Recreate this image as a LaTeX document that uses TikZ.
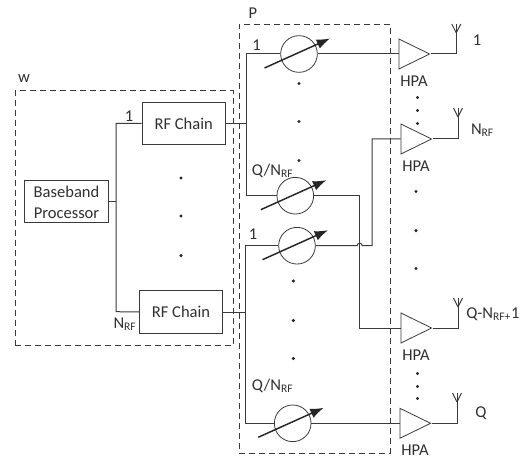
\documentclass[tikz,border=0pt]{standalone}
\usepackage{fontspec}
\setmainfont{Carlito}
\usetikzlibrary{shapes.geometric,arrows.meta,calc}
\definecolor{ln}{HTML}{3A3A3A}
\definecolor{tx}{HTML}{303030}
\newcommand{\nrf}{N\textsubscript{RF}}
\tikzset{
  every node/.style={text=tx,font=\fontsize{12.4pt}{15.7pt}\selectfont},
  wire/.style={draw=ln,line width=0.75pt},
  boundary/.style={draw=ln,line width=0.7pt,dash pattern=on 4.5pt off 3pt},
  block/.style={draw=ln,line width=0.75pt,minimum width=62.5pt,minimum height=31.5pt,inner sep=0pt,align=center},
  shifter/.style={draw=ln,line width=0.6pt,circle,minimum size=27.5pt,inner sep=0pt},
  amp/.style={draw=ln,line width=0.6pt,isosceles triangle,isosceles triangle stretches,shape border rotate=0,minimum width=22.5pt,minimum height=23pt,inner sep=0pt,anchor=lower side},
  tune/.style={draw=black!85,line width=1.1pt,-{Latex[length=10pt,width=7.5pt]}},
  dotmark/.style={circle,fill=black!85,inner sep=0pt,minimum size=2.6pt},
  lab/.style={inner sep=0pt}
}
\begin{document}
\begin{tikzpicture}[x=0.75pt,y=-0.75pt]
\useasboundingbox (0,0) rectangle (524,459);
% dashed groups
\node[boundary,lab,minimum width=163.5pt,minimum height=191pt,anchor=north west] (wbox) at (15,90.5) {};
\node[boundary,lab,minimum width=113.25pt,minimum height=321.75pt,anchor=north west] (pbox) at (239,24) {};
% blocks
\node[block,minimum height=31.5pt] (bb) at (66.5,202) {Baseband\\Processor};
\node[block] (rfa) at (183.7,123.5) {RF Chain};
\node[block] (rfb) at (181,312) {RF Chain};
% phase shifters
\node[shifter] (psa) at (299,54) {};
\node[shifter] (psb) at (295.3,195.7) {};
\node[shifter] (psc) at (297,245.7) {};
\node[shifter] (psd) at (292.7,423.3) {};
% amplifiers
\node[amp] (ampa) at (398.5,54) {};
\node[amp] (ampb) at (400.5,139) {};
\node[amp] (ampc) at (400.5,328) {};
\node[amp] (ampd) at (399.5,423.3) {};
% routing points
\coordinate (busw) at (116,202);
\coordinate (wtop) at (116,123.5);
\coordinate (wbot) at (116,311.7);
\coordinate (busa) at (246.5,123.5);
\coordinate (busat) at (246.5,54);
\coordinate (busab) at (246.5,195.7);
\coordinate (busc) at (245,312);
\coordinate (busct) at (245,245.7);
\coordinate (buscb) at (245,423.3);
\coordinate (crossb) at (359.7,328);
\coordinate (anta) at (456.3,33);
\coordinate (antb) at (458,117);
\coordinate (antc) at (458,307);
\coordinate (antd) at (457,402);
% baseband wiring
\draw[wire] (bb.east) -- (busw);
\draw[wire] (rfa.west) -- (wtop) -- (wbot) -- (rfb.west);
\draw[wire] (rfa.east) -- (busa);
\draw[wire] (rfb.east) -- (busc);
\draw[wire] (psa.west) -- (busat) -- (busab) -- (psb.west);
\draw[wire] (psc.west) -- (busct) -- (buscb) -- (psd.west);
% shifter to amplifier
\draw[wire] (psa.east) -- (ampa.lower side);
\draw[wire] (psd.east) -- (ampd.lower side);
\draw[wire] (psb.east) -| (crossb) -- (ampc.lower side);
\draw[wire] (psc.east) -- (357.2,245.7) arc[start angle=180,end angle=360,radius=2.5] -- (372,245.7) |- (ampb.lower side);
% antennas
\foreach \a/\t in {ampa/anta,ampb/antb,ampc/antc,ampd/antd}{
  \draw[wire] (\a.apex) -| (\t);
  \draw[wire] (\t) -- ++(0,-9);
  \draw[wire] (\t) -- ++(-4.5,-9);
  \draw[wire] (\t) -- ++(4.5,-9);
}
% tunable arrows
\foreach \p in {psa,psb,psc,psd}{
  \draw[tune] ($(\p)+(-34.5,14)$) -- ($(\p)+(31,-15.5)$);
}
% dots
\foreach \x/\y [count=\i] in {181/178,181/216,181/255.7,299/83.5,299/121.5,299/160.5,293.3/281,293.3/320.5,293.3/358.5,417.5/97.5,417.5/110.5,417.5/123.5,416/191.5,416/230.7,416/268.5,417.5/373.5,417.5/386.5,417.5/398.5}{
  \node[dotmark] (dot\i) at (\x,\y) {};
}
% labels
\node[lab] (lw) at (24,79) {w};
\node[lab] (lp) at (253,13) {P};
\node[lab] (l1a) at (129,116) {1};
\node[lab] (lnb) at (125,324) {\nrf};
\node[lab] (l1b) at (256.5,45.5) {1};
\node[lab,anchor=west] (lqa) at (251.5,171) {Q/\nrf};
\node[lab] (l1c) at (253,234) {1};
\node[lab,anchor=west] (lqb) at (251.5,386) {Q/\nrf};
\node[lab] (ha) at (414,81) {HPA};
\node[lab] (hb) at (416,166) {HPA};
\node[lab] (hc) at (416,355) {HPA};
\node[lab] (hd) at (415,450) {HPA};
\node[lab] (oa) at (477,40) {1};
\node[lab] (ob) at (482.5,130) {\nrf};
\node[lab,anchor=west] (oc) at (466,314) {Q-N\textsubscript{RF+}1};
\node[lab] (od) at (481,413) {Q};
\end{tikzpicture}
\end{document}
